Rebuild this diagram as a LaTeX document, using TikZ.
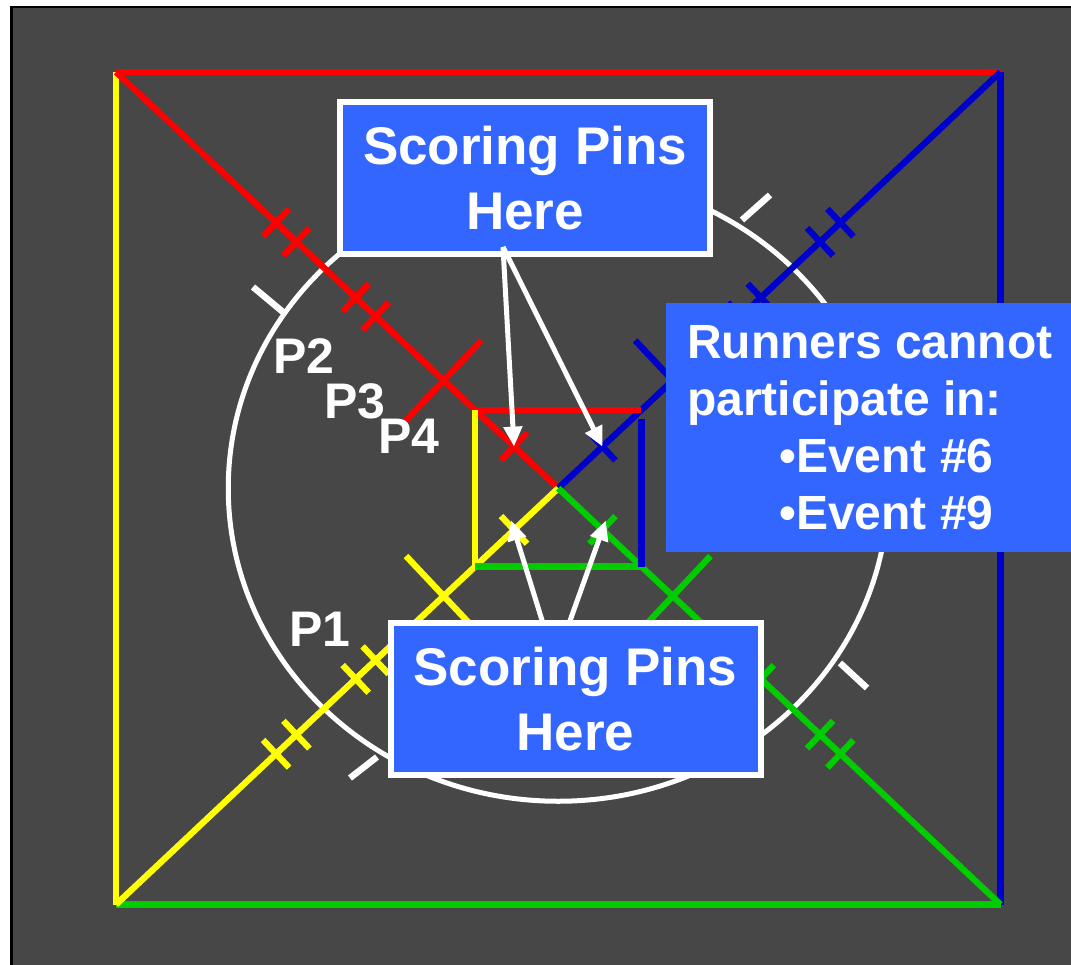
\documentclass[tikz,border=0pt]{standalone}
\usepackage{fontspec}
\setmainfont{Liberation Sans}
\usetikzlibrary{calc,arrows.meta}
\definecolor{bggray}{HTML}{474747}
\definecolor{pinblue}{HTML}{3366FF}
\definecolor{lanered}{HTML}{FF0000}
\definecolor{laneyellow}{HTML}{FFFF00}
\definecolor{lanegreen}{HTML}{00CC00}
\definecolor{laneblue}{HTML}{0000CC}
\tikzset{
  lane/.style={line width=6.3pt},
  ring/.style={draw=white,line width=5pt},
  mark line/.style={white,line width=6.5pt},
  plabel/.style={text=white,font=\fontsize{50}{60}\selectfont\bfseries,inner sep=0pt,anchor=base west},
  pinbox/.style={fill=pinblue,draw=white,line width=6pt,minimum width=370pt,minimum height=152pt,
    align=center,text=white,font=\fontsize{53}{65}\selectfont\bfseries,inner sep=0pt},
  runbox/.style={fill=pinblue,text=white,align=left,font=\fontsize{48}{57}\selectfont\bfseries,
    inner xsep=21pt,inner ysep=0pt,minimum height=249pt,anchor=west},
  pinarrow/.style={white,line width=5pt,-{Triangle[length=20pt,width=18pt]}}
}

\begin{document}
\begin{tikzpicture}[x=1pt,y=-1pt]
	\useasboundingbox (0,0) rectangle (1071,964);
	\clip (0,0) rectangle (1071,964);
	\fill[white] (0,0) rectangle (1071,964);
	\draw[fill=bggray,draw=black,line width=2.5pt] (11.3,7.2) rectangle (1090,990);

	\coordinate (tl) at (116,72);
	\coordinate (tr) at (1000.5,72);
	\coordinate (bl) at (116,904.5);
	\coordinate (br) at (1000.5,904.5);
	\coordinate (c) at ($(tl)!0.5!(br)$);
	\foreach \k in {tl,tr,bl,br}
		\coordinate (i\k) at ($(c)!0.188!(\k)$);
	\foreach \k/\n in {tl/R,tr/B,bl/Y,br/G}
		\coordinate (pin\n) at ($(c)!0.1!(\k)$);

	\draw[ring] (c) ellipse [x radius=330, y radius=313];

	\draw[lane,lanered] (tl) -- (tr);
	\draw[lane,laneblue] (tr) -- (br);
	\draw[lane,lanegreen] (bl) -- (br);
	\draw[lane,laneyellow] (tl) -- (bl);
	\draw[lane,lanered] (tl) -- (c);
	\draw[lane,laneblue] (tr) -- (c);
	\draw[lane,laneyellow] (bl) -- (c);
	\draw[lane,lanegreen] (br) -- (c);

	\draw[lane,lanered] (itl) -- (itr);
	\draw[lane,laneyellow] (itl) -- (ibl);
	\draw[lane,lanegreen] (ibl) -- (ibr);
	\draw[lane,laneblue] ($(itr)+(0,9)$) -- (ibr);

	\foreach \k/\col in {tl/lanered,tr/laneblue,bl/laneyellow,br/lanegreen}
		\foreach \t/\h in {0.1/19pt,0.259/55pt,0.413/19pt,0.458/19pt,0.592/19pt,0.638/19pt} {
			\path (c) -- (\k) coordinate[pos=\t] (m);
			\draw[lane,\col] ($(m)!\h!90:(\k)$) -- ($(m)!\h!-90:(\k)$);
		}

	\draw[mark line] (253,287) -- (283,312);
	\draw[mark line] (742,220) -- (770,195);
	\draw[mark line] (840,663) -- (867,688);
	\draw[mark line] (377,757) -- (350,778);

	\node[plabel] (p2) at (273,373) {P2};
	\node[plabel] (p3) at (324,418) {P3};
	\node[plabel] (p4) at (378,453) {P4};
	\node[plabel] (p1) at (289,646) {P1};

	\coordinate (botfootL) at (543.5,625);
	\coordinate (botfootR) at (568.5,625);
	\draw[pinarrow,shorten >=-10pt] (botfootL) -- (pinY);
	\draw[pinarrow,shorten >=-10pt] (botfootR) -- (pinG);
	\node[pinbox] (pinsBot) at (575.5,699) {Scoring Pins\\Here};

	\node[pinbox] (pinsTop) at (525,178) {Scoring Pins\\Here};
	\coordinate (topfoot) at ([xshift=-22pt,yshift=10pt]pinsTop.south);
	\draw[pinarrow] (topfoot) -- (pinR);
	\draw[pinarrow] (topfoot) -- (pinB);

	\node[runbox] (runners) at (666,427.5) {Runners cannot\\participate in:\\\hspace*{92pt}•Event \#6\\\hspace*{92pt}•Event \#9};
\end{tikzpicture}
\end{document}
